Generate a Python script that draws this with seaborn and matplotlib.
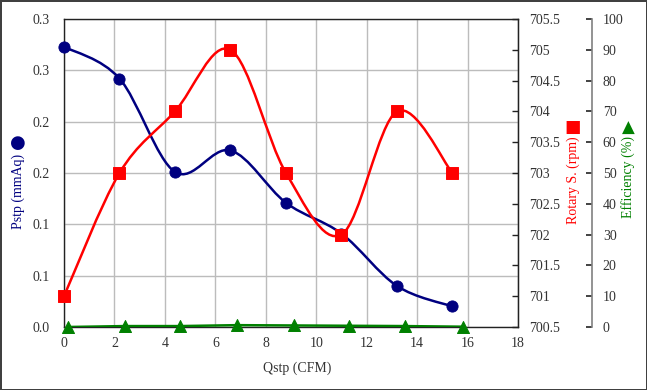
import numpy as np
import matplotlib
matplotlib.use("Agg")
import matplotlib.pyplot as plt
from matplotlib.path import Path
from matplotlib.patches import PathPatch
import seaborn as sns

# data
qstp = [0.0, 2.2, 4.4, 6.6, 8.8, 11.0, 13.2, 15.4]
pstp = [0.273, 0.242, 0.151, 0.172, 0.121, 0.091, 0.040, 0.020]
rpm = [701, 703, 704, 705, 703, 702, 704, 703]
qstp_eff = [0.15, 2.4, 4.6, 6.85, 9.1, 11.3, 13.5, 15.8]
eff = [0.0, 0.3, 0.3, 0.6, 0.5, 0.4, 0.3, 0.1]

x_ticks = list(range(0, 19, 2))
pstp_ticks = [0.0, 0.05, 0.10, 0.15, 0.20, 0.25, 0.30]
pstp_ticklabels = ["0.0", "0.1", "0.1", "0.2", "0.2", "0.3", "0.3"]
rpm_ticks = [700.5, 701, 701.5, 702, 702.5, 703, 703.5, 704, 704.5, 705, 705.5]
eff_ticks = list(range(0, 101, 10))

NAVY = "#000080"
RED = "#ff0000"
GREEN = "#008000"


def smooth_path(x, y):
    # excel-like smoothed line: catmull-rom segments as cubic beziers
    pts = np.column_stack([x, y]).astype(float)
    ext = np.vstack([pts[0], pts, pts[-1]])
    verts = [pts[0]]
    codes = [Path.MOVETO]
    for i in range(1, len(ext) - 2):
        p0, p1, p2, p3 = ext[i - 1], ext[i], ext[i + 1], ext[i + 2]
        verts += [p1 + (p2 - p0) / 6, p2 - (p3 - p1) / 6, p2]
        codes += [Path.CURVE4] * 3
    return Path(verts, codes)


sns.set_style("white")
plt.rcParams['font.family'] = ['Liberation Serif', 'DejaVu Serif']

fig = plt.figure(figsize=(6.47, 3.90), dpi=100)
fig.patch.set_edgecolor("#404040")
fig.patch.set_linewidth(2)
ax = fig.add_axes([64 / 647, 1 - 327 / 390, 454 / 647, 308 / 390])
ax2 = ax.twinx()
ax3 = ax.twinx()

# Pstp
ax.add_patch(PathPatch(smooth_path(qstp, pstp), facecolor="none",
                       edgecolor=NAVY, lw=1.8, zorder=2))
sns.scatterplot(x=qstp, y=pstp, ax=ax, color=NAVY, marker="o", s=65,
                edgecolor=NAVY, zorder=3, clip_on=False)
ax.set_xlim(0, 18)
ax.set_ylim(0, 0.3)
ax.set_xticks(x_ticks)
ax.set_yticks(pstp_ticks)
ax.set_yticklabels(pstp_ticklabels)
ax.grid(True, color="#bcbcbc", lw=1)
ax.set_axisbelow(True)
ax.tick_params(axis="both", length=0, labelsize=10, colors="#333333")
ax.tick_params(axis="y", pad=10)
ax.tick_params(axis="x", pad=7)
for s in ax.spines.values():
    s.set_color("#222222")
    s.set_linewidth(1)

# Rotary speed
ax2.add_patch(PathPatch(smooth_path(qstp, rpm), facecolor="none",
                        edgecolor=RED, lw=1.8, zorder=2))
sns.scatterplot(x=qstp, y=rpm, ax=ax2, color=RED, marker="s", s=72,
                edgecolor=RED, zorder=3, clip_on=False)
ax2.set_ylim(700.5, 705.5)
ax2.set_yticks(rpm_ticks)
ax2.set_yticklabels([f"{v:g}" for v in rpm_ticks])
ax2.tick_params(axis="y", direction="in", length=4, width=1, pad=8,
                labelsize=10, colors="#222222", labelcolor="#333333")
for k in ["left", "top", "bottom"]:
    ax2.spines[k].set_visible(False)
ax2.spines["right"].set_color("#222222")

# Efficiency
ax3.spines["right"].set_position(("axes", (591.7 - 64) / 454))
ax3.plot(qstp_eff, eff, color=GREEN, lw=1.8, zorder=2)
sns.scatterplot(x=qstp_eff, y=eff, ax=ax3, color=GREEN, marker="^", s=75,
                edgecolor=GREEN, zorder=3, clip_on=False)
ax3.set_ylim(0, 100)
ax3.set_yticks(eff_ticks)
ax3.tick_params(axis="y", direction="in", length=4, width=1.2, pad=8,
                labelsize=10, colors="#222222", labelcolor="#333333")
for k in ["left", "top", "bottom"]:
    ax3.spines[k].set_visible(False)
ax3.spines["right"].set_color("#808080")
ax3.spines["right"].set_linewidth(1.2)

# axis titles
fig.text(297 / 647, 1 - 368 / 390, "Qstp (CFM)", ha="center", va="center",
         fontsize=10, color="#333333")
fig.text(18 / 647, 1 - 191 / 390, "Pstp (mmAq)", rotation=90, ha="center",
         va="center", fontsize=10, color=NAVY)
fig.text(18 / 647, 1 - 143 / 390, "●", ha="center", va="center",
         fontsize=13, color=NAVY, family="DejaVu Sans")
fig.text(573 / 647, 1 - 180 / 390, "Rotary S. (rpm)", rotation=90,
         ha="center", va="center", fontsize=10, color=RED)
fig.text(573 / 647, 1 - 127 / 390, "■", ha="center", va="center",
         fontsize=12.5, color=RED, family="DejaVu Sans")
fig.text(628 / 647, 1 - 177 / 390, "Efficiency (%)", rotation=90,
         ha="center", va="center", fontsize=10, color=GREEN)
fig.text(628 / 647, 1 - 128 / 390, "▲", ha="center", va="center",
         fontsize=12, color=GREEN, family="DejaVu Sans")

fig.savefig("out.png", dpi=100, edgecolor=fig.get_edgecolor())
